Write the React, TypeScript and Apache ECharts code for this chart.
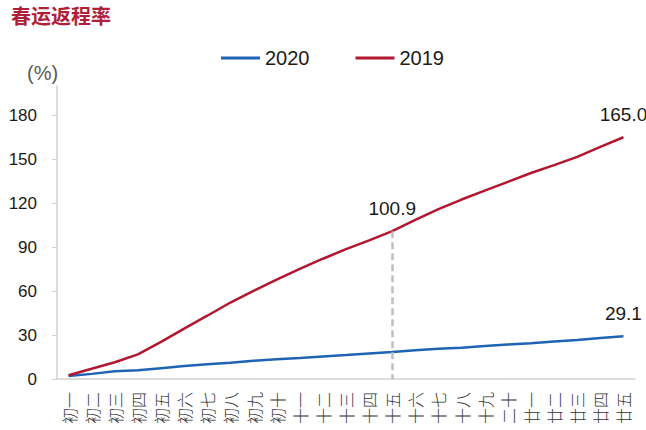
import React, { useEffect, useRef } from "react";
import * as echarts from "echarts";

const categories = [
  "初一", "初二", "初三", "初四", "初五", "初六", "初七", "初八", "初九", "初十",
  "十一", "十二", "十三", "十四", "十五", "十六", "十七", "十八", "十九", "二十",
  "廿一", "廿二", "廿三", "廿四", "廿五",
];
const series2020 = [
  2.0, 3.5, 5.3, 6.0, 7.4, 8.8, 10.0, 11.1, 12.4, 13.5,
  14.3, 15.4, 16.3, 17.4, 18.4, 19.6, 20.6, 21.4, 22.5, 23.6,
  24.4, 25.6, 26.6, 28.0, 29.1,
];
const series2019 = [
  2.6, 7.0, 11.4, 16.8, 25.3, 34.4, 43.2, 52.2, 60.2, 67.8,
  75.1, 82.1, 88.6, 94.6, 100.9, 108.6, 116.0, 122.5, 128.6, 134.6,
  140.6, 146.0, 151.6, 158.4, 165.0,
];
const labelled2020 = [24];
const labelled2019 = [14, 24];
const markerCategory = "十五";
const markerValue = 100.9;
const yTicks = { min: 0, max: 200, interval: 30 };

const BLUE = "#1f63b3";
const RED = "#b2172f";

function withLabels(values: number[], idx: number[]) {
  return values.map((v, i) =>
    idx.includes(i)
      ? {
          value: v,
          label: {
            show: true,
            position: "top",
            distance: 13,
            fontSize: 19,
            color: "#1a1a1a",
            fontFamily: "Liberation Sans, Arial, sans-serif",
            formatter: (p: any) => Number(p.value).toFixed(1),
          },
        }
      : v
  );
}

export default function App() {
  const ref = useRef<HTMLDivElement>(null);
  useEffect(() => {
    if (!ref.current) return;
    const chart = echarts.init(ref.current, null, { renderer: "svg" });
    chart.setOption({
      animation: false,
      backgroundColor: "#ffffff",
      textStyle: { fontFamily: "Liberation Sans, Arial, sans-serif" },
      graphic: [
        {
          type: "text",
          left: 11,
          top: 5,
          style: {
            text: "春运返程率",
            fontSize: 20,
            fontWeight: "bold",
            fill: "#b01e3a",
            fontFamily: "Noto Sans CJK SC",
          },
        },
        {
          type: "text",
          left: 27,
          top: 63,
          style: {
            text: "(%)",
            fontSize: 20,
            fill: "#595959",
            fontFamily: "Liberation Sans, Arial, sans-serif",
          },
        },
      ],
      legend: {
        top: 43,
        left: 216,
        icon: "rect",
        itemWidth: 39,
        itemHeight: 3,
        itemGap: 46,
        textStyle: {
          fontSize: 20,
          color: "#1a1a1a",
          fontFamily: "Liberation Sans, Arial, sans-serif",
        },
        data: ["2020", "2019"],
      },
      grid: { left: 57, right: 11, top: 86, bottom: 51, containLabel: false },
      xAxis: {
        type: "category",
        data: categories,
        boundaryGap: true,
        axisLine: { lineStyle: { color: "#d0d0d0", width: 1.5 } },
        axisTick: { show: false },
        axisLabel: {
          interval: 0,
          rotate: 90,
          margin: 13,
          fontSize: 16,
          color: "#333333",
          fontFamily: "Noto Sans CJK SC",
          fontWeight: 300,
        },
      },
      yAxis: {
        type: "value",
        min: yTicks.min,
        max: yTicks.max,
        interval: yTicks.interval,
        splitLine: { show: false },
        axisLine: { show: true, lineStyle: { color: "#d0d0d0", width: 1.5 } },
        axisTick: { show: true, length: 5, lineStyle: { color: "#d0d0d0" } },
        axisLabel: {
          margin: 20,
          fontSize: 17,
          color: "#1a1a1a",
          showMaxLabel: false,
          formatter: (v: number) => (v > 180 ? "" : String(v)),
        },
      },
      series: [
        {
          name: "2020",
          type: "line",
          data: withLabels(series2020, labelled2020),
          symbol: "circle",
          symbolSize: 0,
          showSymbol: true,
          lineStyle: { color: BLUE, width: 2.5 },
          itemStyle: { color: BLUE },
        },
        {
          name: "2019",
          type: "line",
          data: withLabels(series2019, labelled2019),
          symbol: "circle",
          symbolSize: 0,
          showSymbol: true,
          lineStyle: { color: RED, width: 2.5 },
          itemStyle: { color: RED },
          markLine: {
            silent: true,
            symbol: ["none", "none"],
            label: { show: false },
            lineStyle: { color: "#bfbfbf", type: [7, 4], width: 2.5 },
            data: [
              [
                { coord: [markerCategory, markerValue] },
                { coord: [markerCategory, 0] },
              ],
            ],
          },
        },
      ],
    });
    return () => chart.dispose();
  }, []);
  return (
    <div
      ref={ref}
      style={{ position: "fixed", left: 0, top: 0, width: 646, height: 430 }}
    />
  );
}
